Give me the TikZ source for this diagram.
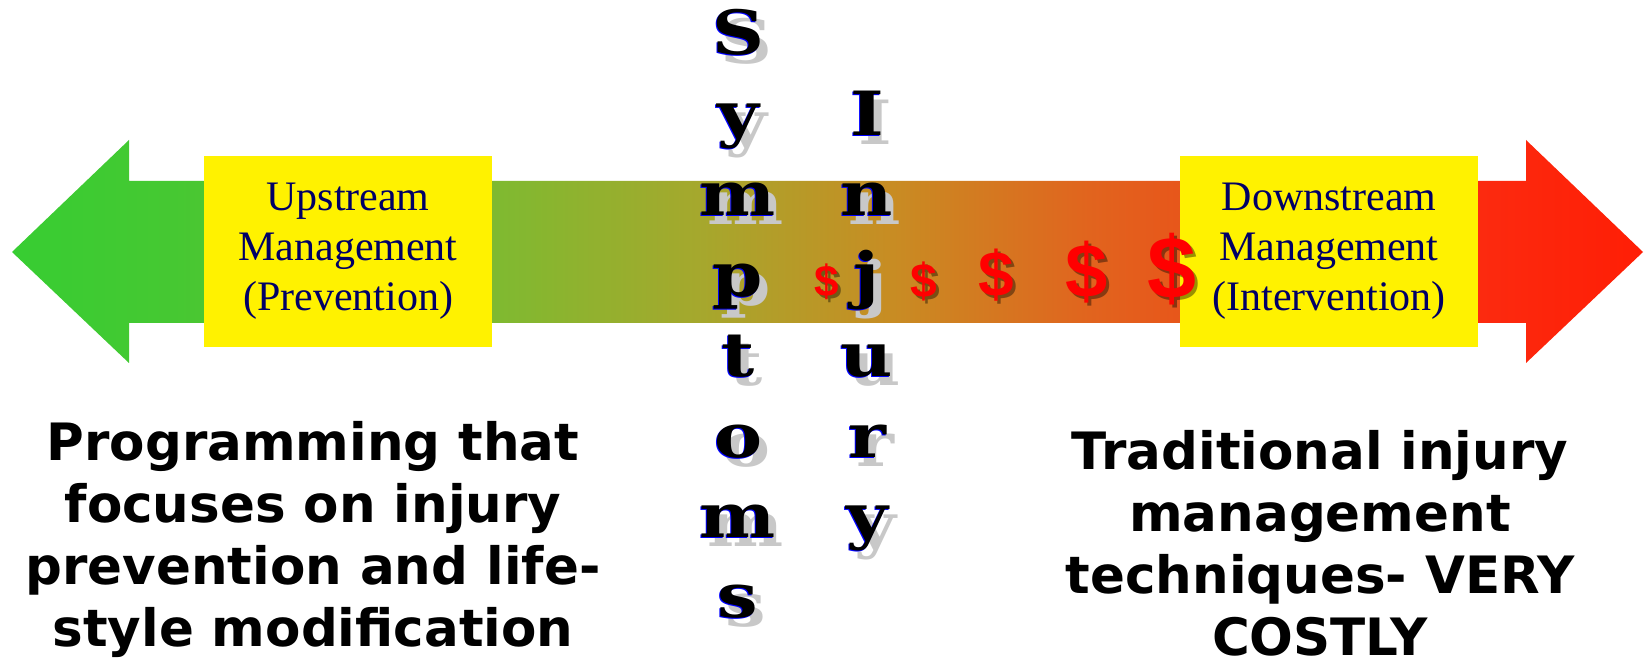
\documentclass[tikz,border=0pt]{standalone}
\usepackage{fontspec}
\usepackage{tikz}
\usetikzlibrary{positioning}

\newfontfamily\boxfont{Liberation Serif}
\newfontfamily\notefont{DejaVu Sans}
\newfontfamily\letterfont[FakeStretch=1.18]{DejaVu Serif}
\newfontfamily\dollarfont{Liberation Sans}

\definecolor{costgreen}{RGB}{55,205,50}
\definecolor{costlime}{RGB}{70,200,50}
\definecolor{costolive}{RGB}{128,185,48}
\definecolor{costkhaki}{RGB}{165,168,45}
\definecolor{costamber}{RGB}{200,140,35}
\definecolor{costorange}{RGB}{225,100,30}
\definecolor{costred}{RGB}{252,42,15}
\definecolor{costdeep}{RGB}{255,30,5}
\definecolor{boxtext}{RGB}{0,0,102}
\definecolor{shadowgray}{RGB}{200,200,200}

% green -> red along the whole double arrow
\pgfdeclarehorizontalshading{costshade}{100bp}{color(0bp)=(costgreen); color(25bp)=(costgreen);
  color(30bp)=(costlime); color(40bp)=(costolive); color(46bp)=(costkhaki);
  color(52bp)=(costamber); color(58bp)=(costorange); color(70bp)=(costred);
  color(75bp)=(costdeep); color(100bp)=(costdeep)}

\begin{document}
\begin{tikzpicture}[x=1pt,y=-1pt,
    mgmtbox/.style={fill=yellow,minimum height=191pt,inner sep=0pt,align=center,
      text=boxtext,font=\boxfont\fontsize{42}{50}\selectfont},
    letter/.style={anchor=base,inner sep=0pt,font=\letterfont\bfseries\fontsize{61}{61}\selectfont},
    note/.style={anchor=base,inner sep=0pt,align=center,
      font=\notefont\bfseries\fontsize{51.5}{62}\selectfont}]
    \useasboundingbox (0,0) rectangle (1647,668);

    % Double arrow (shaded shaft and heads)
    \shade[shading=costshade] (12,252) -- (129,140) -- (129,181) -- (1526,181) -- (1526,140)
      -- (1643,252) -- (1526,363) -- (1526,323) -- (129,323) -- (129,363) -- cycle;

    % Management boxes
    \node[mgmtbox,minimum width=288pt] (upstream) at (348,251.5) {Upstream\\Management\\(Prevention)};
    \node[mgmtbox,minimum width=298pt] (downstream) at (1329,251.5) {Downstream\\Management\\(Intervention)};

    % Vertical words
    \foreach \ch [count=\k from 0] in {S,y,m,p,t,o,m,s} {
        \node[letter,text=shadowgray] (symsh\k) at (746,64+80.4*\k) {\ch};
        \node[letter,text=blue] (symbl\k) at (737,56+80.4*\k) {\ch};
        \node[letter] (sym\k) at (738,55+80.4*\k) {\ch};
    }
    \foreach \ch [count=\k from 1] in {I,n,j,u,r,y} {
        \node[letter,text=shadowgray] (injsh\k) at (875,64+80.4*\k) {\ch};
        \node[letter,text=blue] (injbl\k) at (866,56+80.4*\k) {\ch};
        \node[letter] (inj\k) at (867,55+80.4*\k) {\ch};
    }

    % Rising cost
    \foreach \x/\y/\s [count=\i] in {827/282/44,924/281/48,996/275/64,1087/272/76,1172/269/88} {
        \node[inner sep=0pt,text=black,opacity=0.4,font={\dollarfont\bfseries\fontsize{\s}{\s}\selectfont}]
          (costsh\i) at (\x+3,\y+3) {\$};
        \node[inner sep=0pt,text=red,font={\dollarfont\bfseries\fontsize{\s}{\s}\selectfont}]
          (cost\i) at (\x,\y) {\$};
    }

    % Captions under the arrow (anchored on the last line)
    \node[note] (prevnote) at (313,646) {Programming that\\focuses on injury\\prevention and life-\\style modification};
    \node[note] (costnote) at (1320,655) {Traditional injury\\management\\techniques- VERY\\COSTLY};
\end{tikzpicture}
\end{document}
